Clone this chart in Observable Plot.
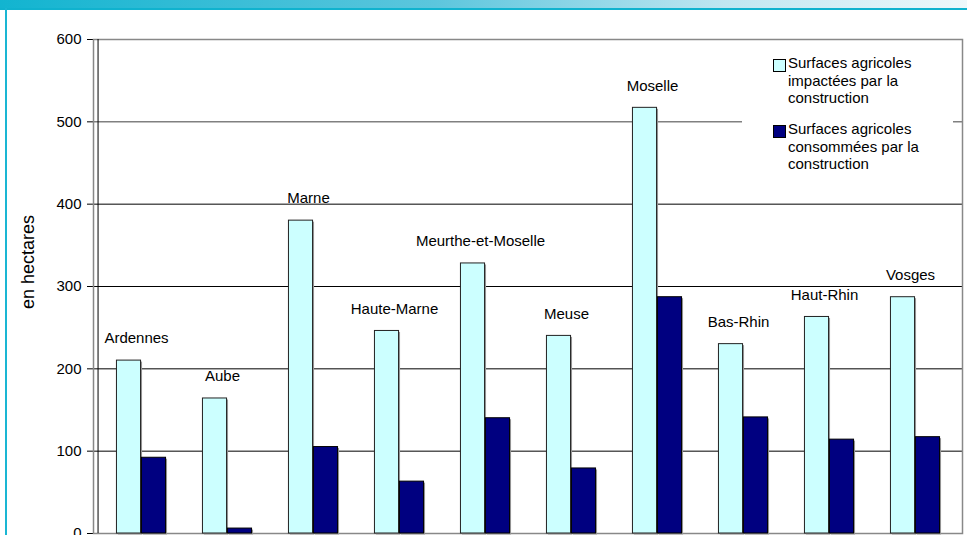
<!DOCTYPE html>
<html>
<head>
<meta charset="utf-8">
<script src="https://cdn.jsdelivr.net/npm/d3@7"></script>
<script src="https://cdn.jsdelivr.net/npm/@observablehq/plot@0.6"></script>
<style>
  html, body { margin: 0; padding: 0; background: #fff; }
  #wrap { position: relative; width: 967px; height: 535px; overflow: hidden; font-family: "Liberation Sans", Arial, sans-serif; }
  #topbar { position: absolute; left: 0; top: 0; width: 967px; height: 8px;
    background: linear-gradient(to right, #12b4d0 0%, #5cc6dd 45%, #bfe6f1 75%, #eef8fb 100%); }
  #topline { position: absolute; left: 0; top: 8px; width: 967px; height: 2px; background: #10b2ce; }
  #leftline { position: absolute; left: 5px; top: 8px; width: 2px; height: 527px; background: #1ab6d3; }
  #ytitle { position: absolute; left: 28px; top: 262px; transform: translate(-50%, -50%) rotate(-90deg);
    font-size: 18px; white-space: nowrap; color: #000; }
  #legend { position: absolute; left: 742px; top: 41px; width: 211px; height: 150px; background: #fff; }
  .item { position: absolute; left: 31px; }
  .sw { position: absolute; left: 0; width: 11px; height: 11px; border: 1px solid #000; }
  .tx { position: absolute; left: 15px; font-size: 15px; line-height: 17.5px; white-space: nowrap; color: #000; }
  #chart { position: absolute; left: 0; top: 0; }
</style>
</head>
<body>
<div id="wrap">
  <div id="chart"></div>
  <div id="topbar"></div>
  <div id="topline"></div>
  <div id="leftline"></div>
  <div id="ytitle">en hectares</div>
  <div id="legend"></div>
</div>
<script>
const departements = ["Ardennes","Aube","Marne","Haute-Marne","Meurthe-et-Moselle","Meuse","Moselle","Bas-Rhin","Haut-Rhin","Vosges"];
const impactees = [210, 164, 380, 246, 328, 240, 517, 230, 263, 287];
const consommees = [92, 6, 105, 63, 140, 79, 287, 141, 114, 117];
const yTicks = [0, 100, 200, 300, 400, 500, 600];
const seriesNames = ["Surfaces agricoles impactées par la construction", "Surfaces agricoles consommées par la construction"];
const seriesLines = [["Surfaces agricoles", "impactées par la", "construction"], ["Surfaces agricoles", "consommées par la", "construction"]];
const colors = ["#CCFFFF", "#000080"];

const data = departements.map((d, i) => ({departement: d, impactees: impactees[i], consommees: consommees[i]}));

const W = 967, H = 535, mL = 93, mR = 5, mT = 39, mB = 2;
const step = (W - mL - mR) / departements.length;
const barW = 25;
const side = (step - 2 * barW) / 2;

const chart = Plot.plot({
  width: W, height: H,
  marginLeft: mL, marginRight: mR, marginTop: mT, marginBottom: mB,
  style: {fontFamily: "'Liberation Sans', Arial, sans-serif", fontSize: "15px", color: "#000", background: "transparent"},
  x: {type: "band", domain: departements, padding: 0, axis: null},
  y: {domain: [0, 600], ticks: yTicks, tickSize: 6, tickPadding: 6, label: null, tickFormat: d => d},
  marks: [
    Plot.ruleY([100, 200, 300, 400], {stroke: "#000", strokeWidth: 1}),
    Plot.ruleY([500], {stroke: "#808080", strokeWidth: 1.5}),
    Plot.frame({stroke: "#888", strokeWidth: 1.5}),
    // shadows
    Plot.rectY(data, {x: "departement", y: "impactees", insetLeft: side, insetRight: side + barW, fill: "#999", dx: 1.5, dy: 1.5}),
    Plot.rectY(data, {x: "departement", y: "consommees", insetLeft: side + barW, insetRight: side, fill: "#999", dx: 1.5, dy: 1.5}),
    Plot.rectY(data, {x: "departement", y: "impactees", insetLeft: side, insetRight: side + barW, fill: colors[0], stroke: "#222", strokeWidth: 1, title: d => seriesNames[0]}),
    Plot.rectY(data, {x: "departement", y: "consommees", insetLeft: side + barW, insetRight: side, fill: colors[1], stroke: "#000", strokeWidth: 1, title: d => seriesNames[1]}),
    Plot.ruleX([departements[0]], {x: d => d, dx: -step / 2, y1: 0, y2: 600, stroke: "#000", strokeWidth: 1}),
    Plot.text(data, {x: "departement", y: "impactees", text: "departement", dx: -5, dy: -22, fontSize: 15, fill: "#000"})
  ]
});
document.getElementById("chart").appendChild(chart);

// legend
const legend = document.getElementById("legend");
const itemTops = [18, 84];
seriesLines.forEach((lines, i) => {
  const item = document.createElement("div");
  item.className = "item";
  item.style.top = itemTops[i] + "px";
  const sw = document.createElement("div");
  sw.className = "sw";
  sw.style.background = colors[i];
  sw.style.top = "0px";
  item.appendChild(sw);
  const tx = document.createElement("div");
  tx.className = "tx";
  tx.style.top = "-5px";
  tx.innerHTML = lines.join("<br>");
  item.appendChild(tx);
  legend.appendChild(item);
});
</script>
</body>
</html>
